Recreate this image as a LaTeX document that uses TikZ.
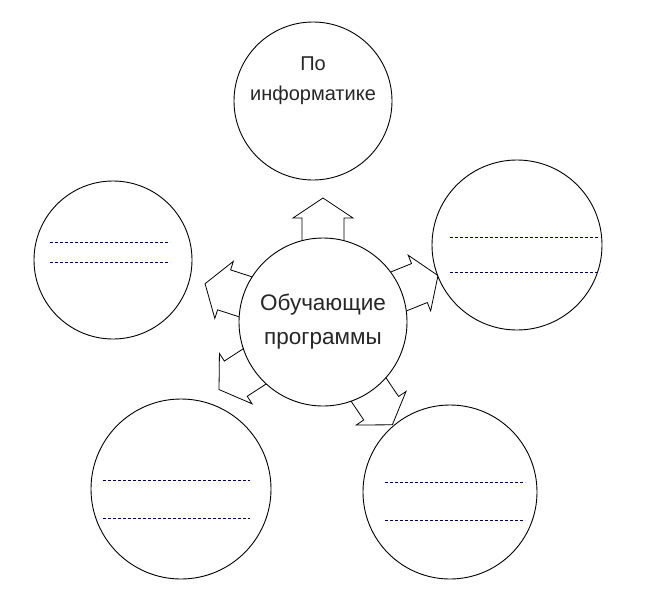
\documentclass[tikz,border=0pt]{standalone}
\usepackage{fontspec}
\setmainfont{Liberation Sans}
\begin{document}
\begin{tikzpicture}[x=1pt,y=-1pt,
  circ/.style={circle,draw,line width=0.9pt,fill=white,inner sep=0pt,align=center,text=black!85},
  dl/.style={dashed,dash pattern=on 3pt off 2pt,line width=0.6pt,draw=black!70!blue},
  blk/.style={draw,line width=0.8pt,fill=white,line join=miter}]
\useasboundingbox (0,0) rectangle (645,600);
\fill[white] (0,0) rectangle (645,600);
\coordinate (c) at (323,322);
\foreach \a in {90,162,22,213,-56}{
  \begin{scope}[shift={(c)},y=1pt,rotate=\a]
    \draw[blk] (70,-21) -- (104,-21) -- (104,-30) -- (124,0) -- (104,30) -- (104,21) -- (70,21) -- cycle;
  \end{scope}}
\node[circ,minimum size=168pt,font=\fontsize{22.5}{34}\selectfont] (center) at (c) {Обучающие\\программы};
\node[circ,minimum size=158pt,font=\fontsize{20}{30}\selectfont] (top) at (313,101) {По\\информатике\\[14pt]};
\node[circ,minimum size=158pt] (left) at (113,260) {};
\node[circ,minimum size=170pt] (right) at (517,245) {};
\node[circ,minimum size=180pt] (bl) at (181,489) {};
\node[circ,minimum size=174pt] (br) at (450,492) {};
\draw[dl] (50,242) -- (170,242); \draw[dl] (50,262) -- (170,262);
\draw[dl] (450,237) -- (600,237); \draw[dl] (450,272) -- (600,272);
\draw[dl] (103,480) -- (250,480); \draw[dl] (103,518) -- (250,518);
\draw[dl] (385,482) -- (525,482); \draw[dl] (385,520) -- (525,520);
\end{tikzpicture}
\end{document}
